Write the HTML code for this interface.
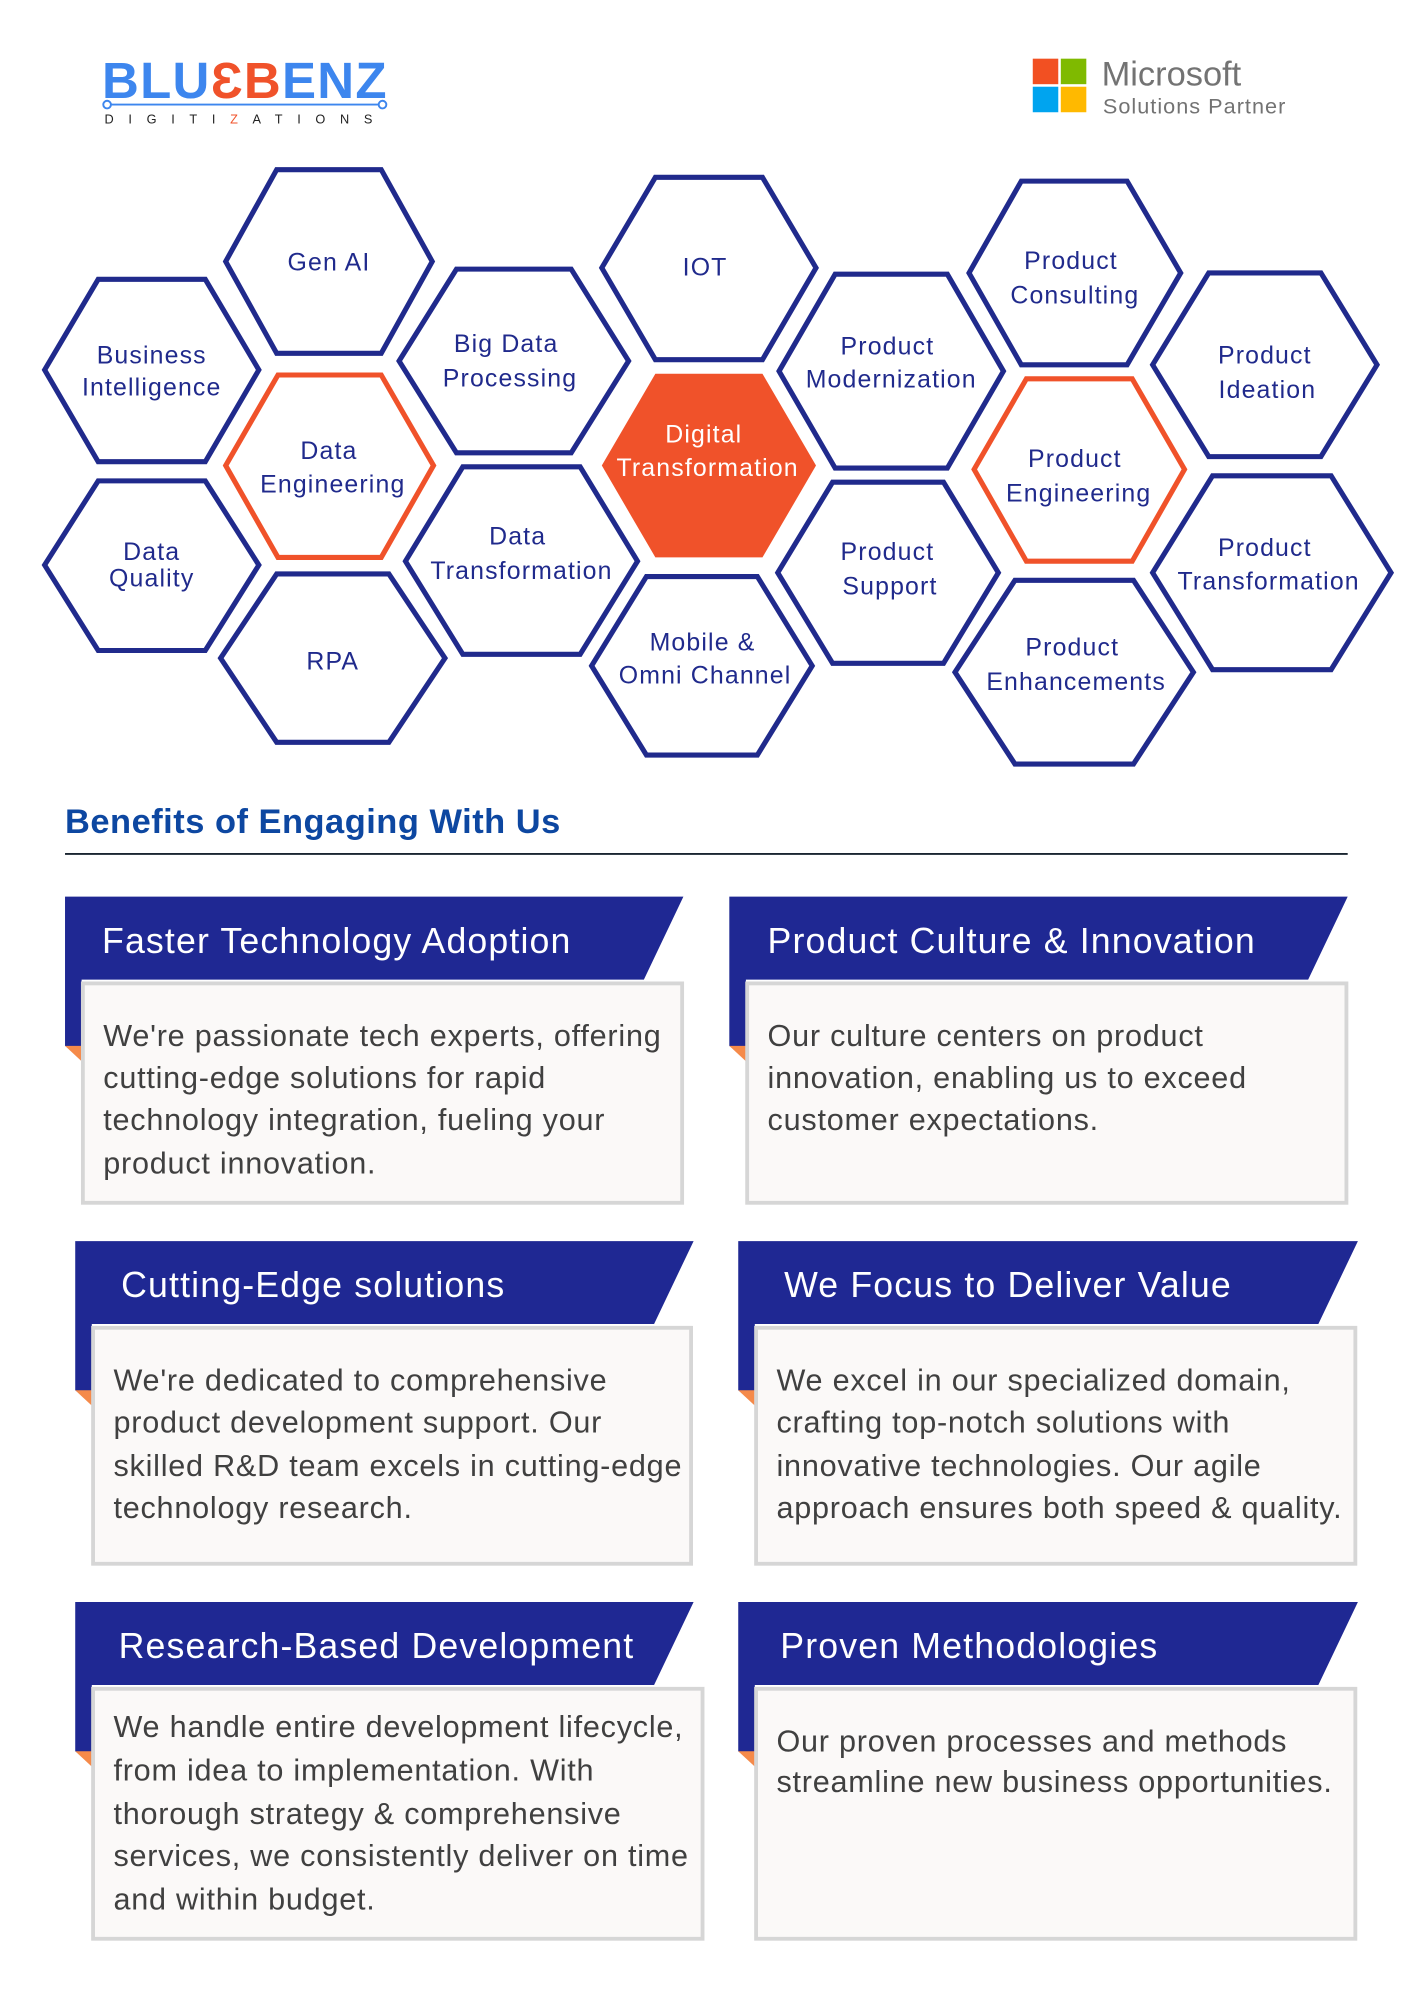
<!DOCTYPE html>
<html><head><meta charset="utf-8"><style>
html,body{margin:0;padding:0;background:#fff;}
svg{display:block;}
text{font-family:"Liberation Sans","DejaVu Sans",sans-serif;}
</style></head><body>
<svg xmlns="http://www.w3.org/2000/svg" width="1414" height="2000" viewBox="0 0 1109 1568" preserveAspectRatio="none">
<rect width="1109" height="1568" fill="#fff"/>
<!-- Logo -->
<text x="80" y="77" font-size="40" font-weight="bold" fill="#3d86ee" letter-spacing="1">BLU<tspan fill="#f0522a">ƐB</tspan>ENZ</text>
<line x1="84" y1="82" x2="300" y2="82" stroke="#3d86ee" stroke-width="1.5"/>
<circle cx="84" cy="82" r="3" fill="#fff" stroke="#3d86ee" stroke-width="1.5"/>
<circle cx="300" cy="82" r="3" fill="#fff" stroke="#3d86ee" stroke-width="1.5"/>
<text x="82" y="97" font-size="10" fill="#222" letter-spacing="11.5">DIGITI<tspan fill="#f0522a">Z</tspan>ATIONS</text>
<!-- Microsoft -->
<rect x="810" y="46" width="20" height="20" fill="#f25022"/>
<rect x="832" y="46" width="20" height="20" fill="#7fba00"/>
<rect x="810" y="68" width="20" height="20" fill="#00a4ef"/>
<rect x="832" y="68" width="20" height="20" fill="#ffb900"/>
<text x="864" y="67" font-size="27" fill="#737373">Microsoft</text>
<text x="865" y="89" font-size="17" fill="#737373" letter-spacing="0.8">Solutions Partner</text>
<!-- Hexagons -->
<g stroke-width="4" stroke-linejoin="miter" fill="none" stroke="#202a8c">
<polygon points="177,205 217,133 299,133 339,205 299,277 217,277"/>
<polygon points="35,290 77,219 161,219 203,290 161,362 77,362"/>
<polygon points="35,443 77,377 161,377 203,443 161,510 77,510"/>
<polygon points="173,516 217,450 305,450 349,516 305,582 217,582"/>
<polygon points="313,283 358,211 448,211 493,283 448,355 358,355"/>
<polygon points="318,440 363,366 455,366 500,440 455,513 363,513"/>
<polygon points="472,210 514,139 598,139 640,210 598,282 514,282"/>
<polygon points="464,522 507,452 594,452 637,522 594,592 507,592"/>
<polygon points="611,291 655,215 743,215 787,291 743,367 655,367"/>
<polygon points="610,449 653,378 740,378 783,449 740,520 653,520"/>
<polygon points="760,214 801,142 884,142 926,214 884,286 801,286"/>
<polygon points="749,527 796,455 889,455 936,527 889,599 796,599"/>
<polygon points="904,286 948,214 1036,214 1080,286 1036,358 948,358"/>
<polygon points="904,449 951,373 1044,373 1091,449 1044,525 951,525"/>
</g>
<g stroke-width="4" fill="none" stroke="#f0522a">
<polygon points="177,365 218,294 299,294 340,365 299,437 218,437"/>
<polygon points="764,368 805,297 888,297 929,368 888,440 805,440"/>
</g>
<polygon points="472,365 514,293 598,293 640,365 598,437 514,437" fill="#f0522a"/>
<g font-size="19.5" fill="#202a8c" text-anchor="middle" letter-spacing="0.9">
<text x="258" y="212">Gen AI</text>
<text x="119" y="285">Business</text><text x="119" y="310">Intelligence</text>
<text x="258" y="360">Data</text><text x="261" y="386">Engineering</text>
<text x="119" y="439">Data</text><text x="119" y="460">Quality</text>
<text x="261" y="525">RPA</text>
<text x="397" y="276">Big Data</text><text x="400" y="303">Processing</text>
<text x="406" y="427">Data</text><text x="409" y="454">Transformation</text>
<text x="553" y="216">IOT</text>
<text x="551" y="510">Mobile &amp;</text><text x="553" y="536">Omni Channel</text>
<text x="696" y="278">Product</text><text x="699" y="304">Modernization</text>
<text x="696" y="439">Product</text><text x="698" y="466">Support</text>
<text x="840" y="211">Product</text><text x="843" y="238">Consulting</text>
<text x="843" y="366">Product</text><text x="846" y="393">Engineering</text>
<text x="841" y="514">Product</text><text x="844" y="541">Enhancements</text>
<text x="992" y="285">Product</text><text x="994" y="312">Ideation</text>
<text x="992" y="436">Product</text><text x="995" y="462">Transformation</text>
<text x="552" y="347" fill="#fff">Digital</text><text x="555" y="373" fill="#fff">Transformation</text>
</g>
<!-- Benefits heading -->
<text x="51" y="653" font-size="27" font-weight="bold" fill="#0d47a1" letter-spacing="0.4">Benefits of Engaging With Us</text>
<line x1="51" y1="669.5" x2="1057" y2="669.5" stroke="#1a2530" stroke-width="1.5"/>
<g>
<!-- Card 1 -->
<polygon points="51,703 536,703 505,768 64,768 64,830 51,820" fill="#1f2893"/>
<polygon points="51,820 64,820 64,832" fill="#f58a4a"/>
<rect x="65" y="771" width="470" height="172" fill="#fbf9f8" stroke="#d6d6d6" stroke-width="3"/>
<polygon points="572,703 1057,703 1026,768 585,768 585,830 572,820" fill="#1f2893"/>
<polygon points="572,820 585,820 585,832" fill="#f58a4a"/>
<rect x="586" y="771" width="470" height="172" fill="#fbf9f8" stroke="#d6d6d6" stroke-width="3"/>
<polygon points="59,973 544,973 513,1038 72,1038 72,1100 59,1090" fill="#1f2893"/>
<polygon points="59,1090 72,1090 72,1102" fill="#f58a4a"/>
<rect x="73" y="1041" width="469" height="185" fill="#fbf9f8" stroke="#d6d6d6" stroke-width="3"/>
<polygon points="579,973 1065,973 1034,1038 592,1038 592,1100 579,1090" fill="#1f2893"/>
<polygon points="579,1090 592,1090 592,1102" fill="#f58a4a"/>
<rect x="593" y="1041" width="470" height="185" fill="#fbf9f8" stroke="#d6d6d6" stroke-width="3"/>
<polygon points="59,1256 544,1256 513,1321 72,1321 72,1383 59,1373" fill="#1f2893"/>
<polygon points="59,1373 72,1373 72,1385" fill="#f58a4a"/>
<rect x="73" y="1324" width="478" height="196" fill="#fbf9f8" stroke="#d6d6d6" stroke-width="3"/>
<polygon points="579,1256 1065,1256 1034,1321 592,1321 592,1383 579,1373" fill="#1f2893"/>
<polygon points="579,1373 592,1373 592,1385" fill="#f58a4a"/>
<rect x="593" y="1324" width="470" height="196" fill="#fbf9f8" stroke="#d6d6d6" stroke-width="3"/>
</g>
<g font-size="28" fill="#fff" letter-spacing="0.9">
<text x="80" y="747">Faster Technology Adoption</text>
<text x="602" y="747">Product Culture &amp; Innovation</text>
<text x="95" y="1017">Cutting-Edge solutions</text>
<text x="615" y="1017">We Focus to Deliver Value</text>
<text x="93" y="1300">Research-Based Development</text>
<text x="612" y="1300">Proven Methodologies</text>
</g>
<g font-size="24" fill="#404040" letter-spacing="0.6">
<text x="81" y="820">We're passionate tech experts, offering</text>
<text x="81" y="853">cutting-edge solutions for rapid</text>
<text x="81" y="886">technology integration, fueling your</text>
<text x="81" y="920">product innovation.</text>
<text x="602" y="820">Our culture centers on product</text>
<text x="602" y="853">innovation, enabling us to exceed</text>
<text x="602" y="886">customer expectations.</text>
<text x="89" y="1090">We're dedicated to comprehensive</text>
<text x="89" y="1123">product development support. Our</text>
<text x="89" y="1157">skilled R&amp;D team excels in cutting-edge</text>
<text x="89" y="1190">technology research.</text>
<text x="609" y="1090">We excel in our specialized domain,</text>
<text x="609" y="1123">crafting top-notch solutions with</text>
<text x="609" y="1157">innovative technologies. Our agile</text>
<text x="609" y="1190">approach ensures both speed &amp; quality.</text>
<text x="89" y="1362">We handle entire development lifecycle,</text>
<text x="89" y="1396">from idea to implementation. With</text>
<text x="89" y="1430">thorough strategy &amp; comprehensive</text>
<text x="89" y="1463">services, we consistently deliver on time</text>
<text x="89" y="1497">and within budget.</text>
<text x="609" y="1373">Our proven processes and methods</text>
<text x="609" y="1405">streamline new business opportunities.</text>
</g>
</svg>
</body></html>
